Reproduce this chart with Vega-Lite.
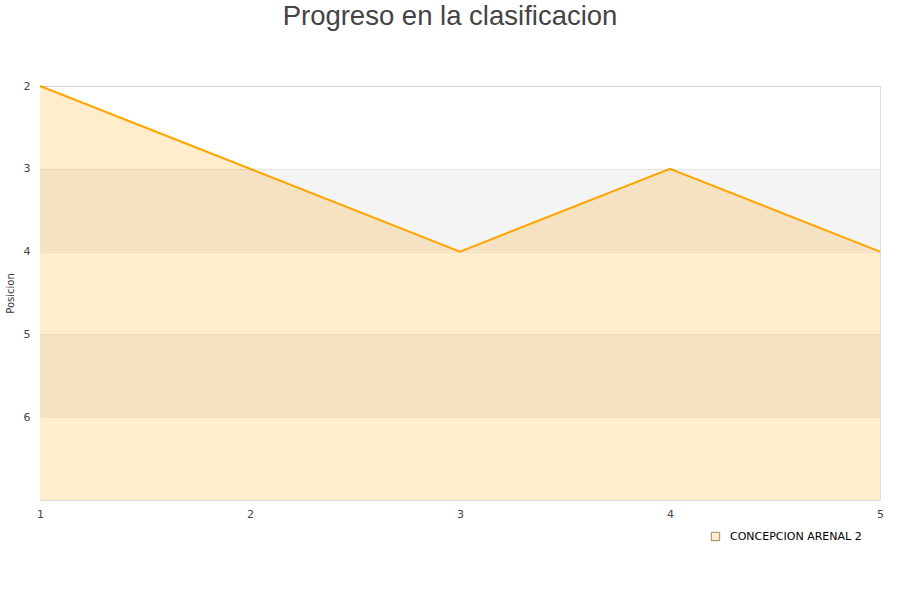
{
  "$schema": "https://vega.github.io/schema/vega-lite/v6.json",
  "autosize": {"type": "none"},
  "padding": {"left": 40, "top": 86, "right": 20, "bottom": 100},
  "width": 840,
  "height": 414,
  "background": "white",
  "title": {
    "text": "Progreso en la clasificacion",
    "font": "Liberation Sans",
    "fontSize": 27.5,
    "fontWeight": "normal",
    "color": "#444444",
    "anchor": "middle",
    "dx": -10,
    "offset": 50
  },
  "datasets": {
    "bands": [
      {"desde": 3, "hasta": 4},
      {"desde": 5, "hasta": 6}
    ],
    "progreso": [
      {"jornada": 1, "posicion": 2, "equipo": "CONCEPCION ARENAL 2"},
      {"jornada": 2, "posicion": 3, "equipo": "CONCEPCION ARENAL 2"},
      {"jornada": 3, "posicion": 4, "equipo": "CONCEPCION ARENAL 2"},
      {"jornada": 4, "posicion": 3, "equipo": "CONCEPCION ARENAL 2"},
      {"jornada": 5, "posicion": 4, "equipo": "CONCEPCION ARENAL 2"}
    ]
  },
  "config": {
    "font": "DejaVu Sans",
    "view": {"stroke": "#dddddd", "strokeWidth": 1},
    "axis": {
      "labelColor": "#444444",
      "labelFontSize": 11,
      "ticks": false,
      "domain": false,
      "grid": false
    }
  },
  "layer": [
    {
      "data": {"name": "progreso"},
      "mark": {"type": "area", "fillOpacity": 1, "line": false},
      "encoding": {
        "x": {
          "field": "jornada",
          "type": "quantitative",
          "scale": {"domain": [1, 5], "nice": false, "zero": false},
          "axis": {
            "title": null,
            "values": [1, 2, 3, 4, 5],
            "format": "d",
            "labelFlush": false,
            "labelPadding": 8
          }
        },
        "y": {
          "field": "posicion",
          "type": "quantitative",
          "scale": {"domain": [2, 7], "reverse": true, "nice": false, "zero": false},
          "axis": {
            "title": "Posicion",
            "titleFontSize": 10,
            "titleFontWeight": "normal",
            "titleColor": "#333333",
            "titlePadding": 8,
            "values": [2, 3, 4, 5, 6],
            "format": "d",
            "grid": true,
            "gridColor": "#000000",
            "gridOpacity": 0.06,
            "zindex": 1,
            "labelPadding": 10
          }
        },
        "y2": {"datum": 7},
        "fill": {
          "field": "equipo",
          "type": "nominal",
          "scale": {"range": ["#ffedcc"]},
          "legend": {
            "title": null,
            "orient": "none",
            "legendX": 670,
            "legendY": 445,
            "symbolType": "square",
            "symbolSize": 70,
            "symbolStrokeColor": "#a08866",
            "symbolStrokeWidth": 1,
            "labelFontSize": 11,
            "labelColor": "#000000",
            "labelOffset": 9
          }
        }
      }
    },
    {
      "data": {"name": "bands"},
      "mark": {"type": "rect", "color": "#000000", "opacity": 0.045},
      "encoding": {
        "y": {"field": "desde", "type": "quantitative"},
        "y2": {"field": "hasta"}
      }
    },
    {
      "data": {"name": "progreso"},
      "mark": {"type": "line", "color": "#ffa500", "strokeWidth": 2},
      "encoding": {
        "x": {"field": "jornada", "type": "quantitative"},
        "y": {"field": "posicion", "type": "quantitative"}
      }
    }
  ]
}
